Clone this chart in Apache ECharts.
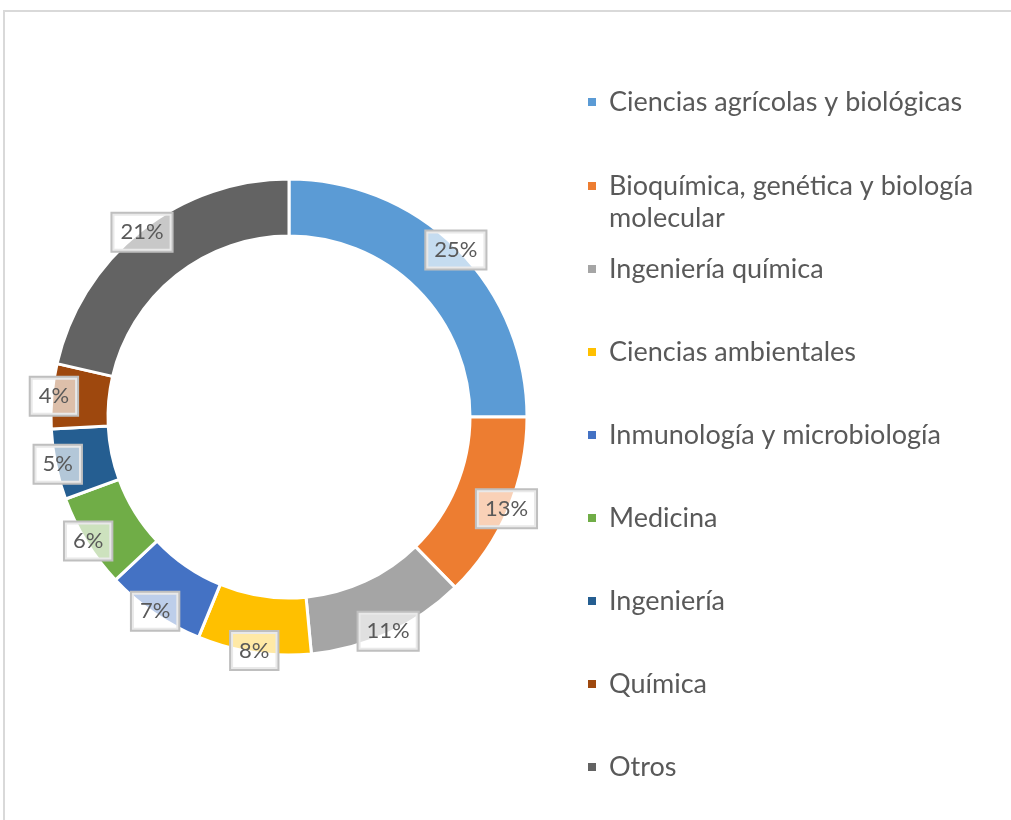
<!DOCTYPE html>
<html>
<head>
<meta charset="utf-8">
<script src="https://cdn.jsdelivr.net/npm/echarts@6/dist/echarts.min.js"></script>
<style>
  html, body { margin: 0; padding: 0; background: #fff; }
  #chart { width: 1011px; height: 820px; }
</style>
</head>
<body>
<div id="chart"></div>
<script>
const categories = [
  'Ciencias agrícolas y biológicas',
  'Bioquímica, genética y biología\nmolecular',
  'Ingeniería química',
  'Ciencias ambientales',
  'Inmunología y microbiología',
  'Medicina',
  'Ingeniería',
  'Química',
  'Otros'
]
// shares; labels show them rounded
const shares = [25.0, 12.7, 10.8, 7.7, 6.8, 6.4, 4.8, 4.4, 21.4]
const colors = ['#5B9BD5', '#ED7D31', '#A5A5A5', '#FFC000', '#4472C4', '#70AD47', '#255E91', '#9E480E', '#636363']

const font = 'Lato, sans-serif'
const pieData = categories.map((name, i) => ({ name, value: shares[i], itemStyle: { color: colors[i] } }))

const legendBase = {
  orient: 'vertical',
  left: 586,
  padding: 0,
  itemWidth: 10,
  itemHeight: 10,
  icon: 'rect',
  itemGap: 51,
  textStyle: {
    color: '#595959',
    fontFamily: font,
    fontSize: 27,
    lineHeight: 32,
    padding: [0, 0, 0, 7],
  },
}

const option = {
  animation: false,
  graphic: [{
    type: 'rect',
    shape: { x: 4, y: 11, width: 1040, height: 840 },
    style: { fill: 'none', stroke: '#d9d9d9', lineWidth: 2 },
    silent: true,
  }],
  legend: [
    { ...legendBase, top: 86, data: [categories[0]] },
    // blank first line keeps the marker level with the first text line
    { ...legendBase, top: 138, data: [categories[1]], formatter: name => '\n' + name },
    { ...legendBase, top: 253, data: categories.slice(2) },
  ],
  series: [
    {
      type: 'pie',
      center: [289, 417],
      radius: [181, 238],
      startAngle: 90,
      clockwise: true,
      itemStyle: { borderColor: '#fff', borderWidth: 3 },
      label: { show: false },
      labelLine: { show: false },
      data: pieData,
    },
    {
      // invisible ring used only to place the percentage callouts on the outer edge
      type: 'pie',
      silent: true,
      center: [289, 417],
      radius: [226, 240],
      startAngle: 90,
      clockwise: true,
      itemStyle: { color: 'transparent' },
      legendHoverLink: false,
      label: {
        show: true,
        position: 'inside',
        formatter: p => Math.round(p.percent) + '%',
        color: '#595959',
        fontFamily: font,
        fontSize: 22,
        lineHeight: 23,
        backgroundColor: 'rgba(255,255,255,0.65)',
        borderColor: '#bfbfbf',
        borderWidth: 2,
        padding: [7, 8],
      },
      labelLine: { show: false },
      data: categories.map((name, i) => ({ name, value: shares[i] })),
    },
  ],
}

const chart = echarts.init(document.getElementById('chart'))
chart.setOption(option)
</script>
</body>
</html>
